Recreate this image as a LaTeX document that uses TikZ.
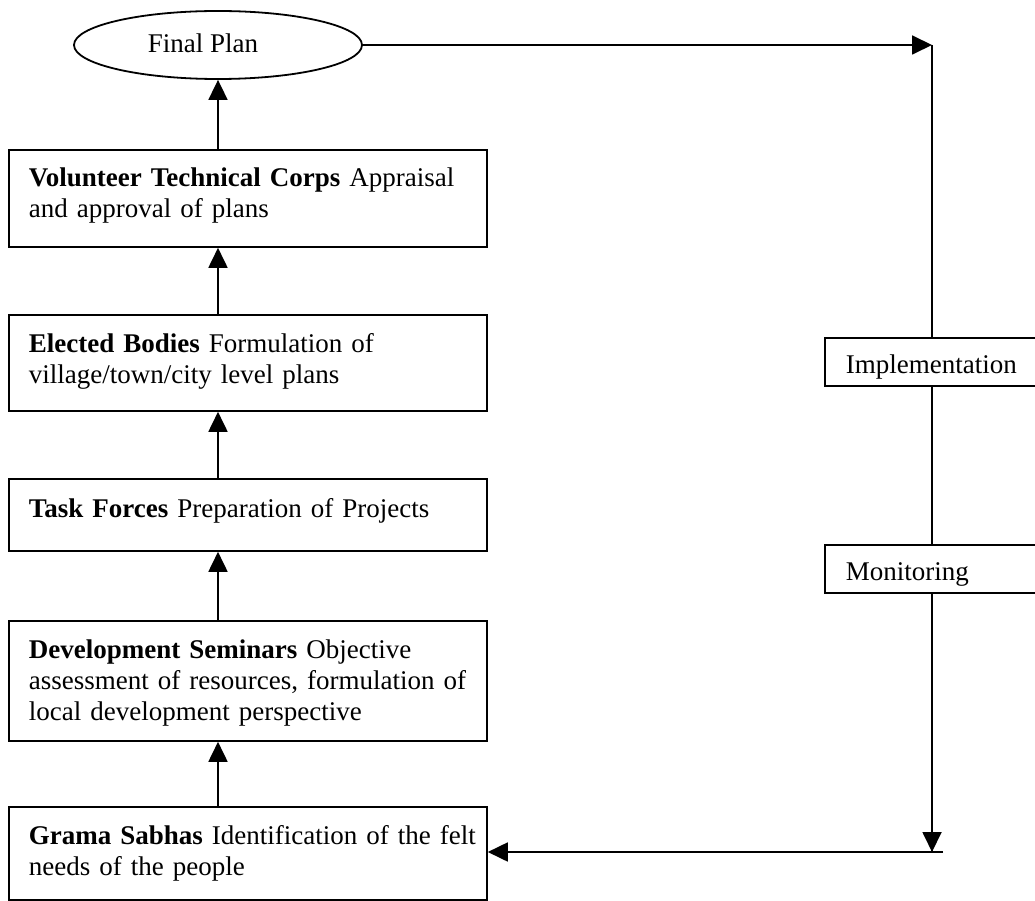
\documentclass[tikz,border=0pt]{standalone}
\usepackage{fontspec}
\setmainfont{Liberation Serif}
\usetikzlibrary{arrows.meta,shapes.geometric}
\begin{document}
\begin{tikzpicture}[x=1pt,y=-1pt,line width=1.8pt,
  box/.style={draw,fill=white,inner sep=0pt,anchor=north west},
  txt/.style={anchor=base west,inner sep=0pt,align=left,font=\fontsize{27}{31}\selectfont},
  arr/.style={-{Triangle[length=20pt,width=19pt]}}]
\useasboundingbox (0,0) rectangle (1035,901);
% final plan
\node[draw,ellipse,minimum width=288pt,minimum height=68pt,inner sep=0pt] (fp) at (218,45) {};
\node[txt] (fpt) at (147,53) {Final Plan};
% left boxes
\node[box,minimum width=478pt,minimum height=97pt] (vtc) at (8,149) {};
\node[box,minimum width=478pt,minimum height=96pt] (eb) at (8,314) {};
\node[box,minimum width=478pt,minimum height=72pt] (tf) at (8,478) {};
\node[box,minimum width=478pt,minimum height=120pt] (ds) at (8,620) {};
\node[box,minimum width=478pt,minimum height=93pt] (gs) at (8,806) {};
\node[txt,text width=455pt] (vtct) at (28,187) {\textbf{Volunteer Technical Corps} Appraisal\\and approval of plans};
\node[txt,text width=455pt] (ebt) at (28,352) {\textbf{Elected Bodies} Formulation of\\village/town/city level plans};
\node[txt,text width=455pt] (tft) at (28,517) {\textbf{Task Forces} Preparation of Projects};
\node[txt,text width=455pt] (dst) at (28,658) {\textbf{Development Seminars} Objective\\assessment of resources, formulation of\\local development perspective};
\node[txt,text width=455pt] (gst) at (28,844) {\textbf{Grama Sabhas} Identification of the felt\\needs of the people};
% right boxes
\coordinate (tr) at (932,45);
\coordinate (br) at (932,852);
\coordinate (be) at (943,852);
\draw (tr) -- (br);
\node[box,minimum width=225pt,minimum height=48pt] (impl) at (824,337) {};
\node[txt] (implt) at (845,373) {Implementation};
\node[box,minimum width=225pt,minimum height=48pt] (mon) at (824,544) {};
\node[txt] (mont) at (845,580) {Monitoring};
% connectors
\draw[arr] (vtc.north -| fp.south) -- (fp.south);
\draw[arr] (eb.north -| fp.south) -- (vtc.south -| fp.south);
\draw[arr] (tf.north -| fp.south) -- (eb.south -| fp.south);
\draw[arr] (ds.north -| fp.south) -- (tf.south -| fp.south);
\draw[arr] (gs.north -| fp.south) -- (ds.south -| fp.south);
\draw[arr] (fp.east) -- (tr);
\draw[arr] (mon.south -| tr) -- (br);
\draw[arr] (be) -- (gs.east |- be);
\end{tikzpicture}
\end{document}
